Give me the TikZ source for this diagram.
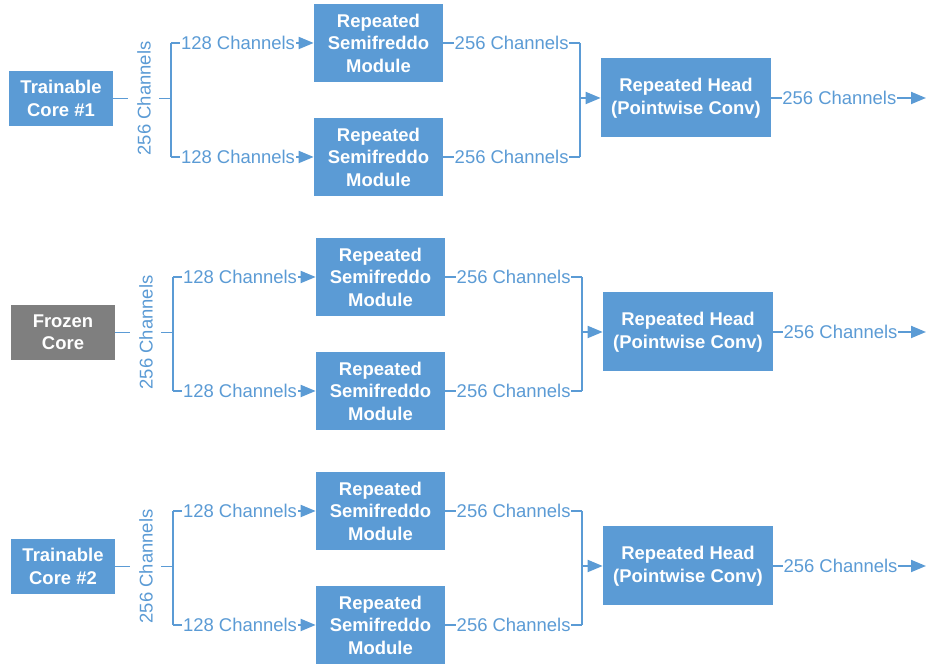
\documentclass[tikz,border=0pt]{standalone}
\usepackage{fontspec}
\setmainfont{Liberation Sans}
\usepackage{tikz}
\usetikzlibrary{arrows.meta}
\usepackage{xcolor}
\definecolor{netblue}{HTML}{5B9BD5}
\definecolor{netgray}{HTML}{7F7F7F}

\begin{document}
\begin{tikzpicture}[
  font=\fontsize{10.5}{12.8}\selectfont,
  box/.style={fill=netblue,text=white,font=\fontsize{10.5}{12.8}\selectfont\bfseries,align=center,inner sep=0pt},
  corebox/.style={box,minimum width=2.08cm,minimum height=1.1cm},
  frozenbox/.style={corebox,fill=netgray},
  modbox/.style={box,minimum width=2.58cm,minimum height=1.56cm},
  headbox/.style={box,minimum width=3.4cm,minimum height=1.58cm},
  wire/.style={draw=netblue,line width=1.1pt},
  arr/.style={wire,-{Triangle[length=0.3cm,width=0.24cm]}},
  chan/.style={fill=white,text=netblue,inner xsep=0.5pt,inner ysep=1pt},
  vchan/.style={chan,rotate=90,inner ysep=5pt}]

\useasboundingbox (0,0) rectangle (18.52,13.32);

\node [corebox] (c1) at (1.22,11.35) {Trainable\\Core \#1};
\node [frozenbox] (c2) at (1.26,6.67) {Frozen\\Core};
\node [corebox] (c3) at (1.26,1.99) {Trainable\\Core \#2};

\node [modbox] (m1) at (7.57,12.46) {Repeated\\Semifreddo\\Module};
\node [modbox] (m2) at (7.57,10.18) {Repeated\\Semifreddo\\Module};
\node [modbox] (m3) at (7.61,7.78) {Repeated\\Semifreddo\\Module};
\node [modbox] (m4) at (7.61,5.50) {Repeated\\Semifreddo\\Module};
\node [modbox] (m5) at (7.61,3.10) {Repeated\\Semifreddo\\Module};
\node [modbox] (m6) at (7.61,0.82) {Repeated\\Semifreddo\\Module};

\node [headbox] (h1) at (13.72,11.36) {Repeated Head\\(Pointwise Conv)};
\node [headbox] (h2) at (13.76,6.68) {Repeated Head\\(Pointwise Conv)};
\node [headbox] (h3) at (13.76,2.00) {Repeated Head\\(Pointwise Conv)};

\coordinate (s1) at (3.42,11.35);
\coordinate (s1a) at (3.42,12.46);
\coordinate (s1b) at (3.42,10.18);
\coordinate (s2) at (3.46,6.67);
\coordinate (s2a) at (3.46,7.78);
\coordinate (s2b) at (3.46,5.50);
\coordinate (s3) at (3.46,1.99);
\coordinate (s3a) at (3.46,3.10);
\coordinate (s3b) at (3.46,0.82);

\coordinate (j1) at (11.6,11.36);
\coordinate (j1a) at (11.6,12.46);
\coordinate (j1b) at (11.6,10.18);
\coordinate (j2) at (11.64,6.68);
\coordinate (j2a) at (11.64,7.78);
\coordinate (j2b) at (11.64,5.50);
\coordinate (j3) at (11.64,2.00);
\coordinate (j3a) at (11.64,3.10);
\coordinate (j3b) at (11.64,0.82);

\coordinate (e1) at (18.52,11.36);
\coordinate (e2) at (18.52,6.68);
\coordinate (e3) at (18.52,2.00);

\draw [wire] (c1) -- node [vchan,pos=0.53] {256 Channels} (s1);
\draw [wire] (s1a) -- (s1b);
\draw [arr] (s1a) -- node [chan,pos=0.47] {128 Channels} (m1);
\draw [arr] (s1b) -- node [chan,pos=0.47] {128 Channels} (m2);
\draw [wire] (m1) -- node [chan] {256 Channels} (j1a);
\draw [wire] (m2) -- node [chan] {256 Channels} (j1b);
\draw [wire] (j1a) -- (j1b);
\draw [arr] (j1) -- (h1);
\draw [arr] (h1) -- node [chan,pos=0.44] {256 Channels} (e1);

\draw [wire] (c2) -- node [vchan,pos=0.53] {256 Channels} (s2);
\draw [wire] (s2a) -- (s2b);
\draw [arr] (s2a) -- node [chan,pos=0.47] {128 Channels} (m3);
\draw [arr] (s2b) -- node [chan,pos=0.47] {128 Channels} (m4);
\draw [wire] (m3) -- node [chan] {256 Channels} (j2a);
\draw [wire] (m4) -- node [chan] {256 Channels} (j2b);
\draw [wire] (j2a) -- (j2b);
\draw [arr] (j2) -- (h2);
\draw [arr] (h2) -- node [chan,pos=0.44] {256 Channels} (e2);

\draw [wire] (c3) -- node [vchan,pos=0.53] {256 Channels} (s3);
\draw [wire] (s3a) -- (s3b);
\draw [arr] (s3a) -- node [chan,pos=0.47] {128 Channels} (m5);
\draw [arr] (s3b) -- node [chan,pos=0.47] {128 Channels} (m6);
\draw [wire] (m5) -- node [chan] {256 Channels} (j3a);
\draw [wire] (m6) -- node [chan] {256 Channels} (j3b);
\draw [wire] (j3a) -- (j3b);
\draw [arr] (j3) -- (h3);
\draw [arr] (h3) -- node [chan,pos=0.44] {256 Channels} (e3);
\end{tikzpicture}
\end{document}
